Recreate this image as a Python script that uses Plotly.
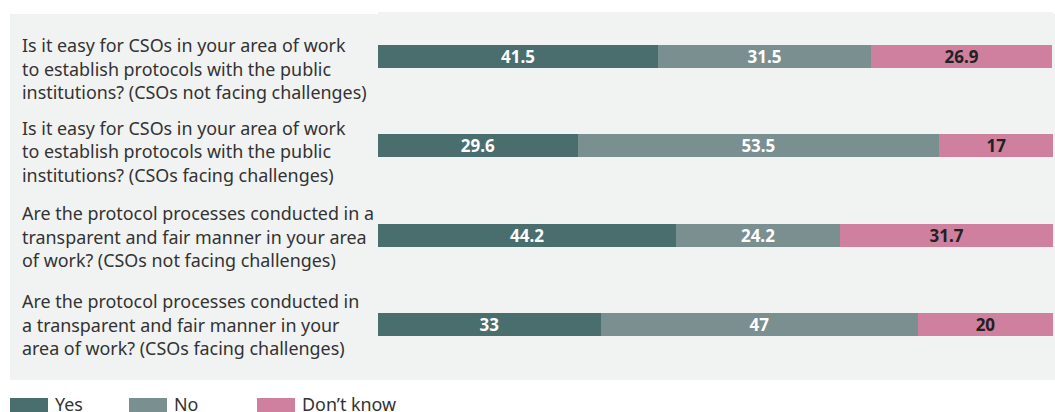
import plotly.graph_objects as go

# ---- data ----
questions = [
    ["Is it easy for CSOs in your area of work", "to establish protocols with the public", "institutions? (CSOs not facing challenges)"],
    ["Is it easy for CSOs in your area of work", "to establish protocols with the public", "institutions? (CSOs facing challenges)"],
    ["Are the protocol processes conducted in a", "transparent and fair manner in your area", "of work? (CSOs not facing challenges)"],
    ["Are the protocol processes conducted in", "a transparent and fair manner in your", "area of work? (CSOs facing challenges)"],
]
categories = ["Q1", "Q2", "Q3", "Q4"]
yes_vals = [41.5, 29.6, 44.2, 33]
no_vals = [31.5, 53.5, 24.2, 47]
dk_vals = [26.9, 17, 31.7, 20]
series_names = ["Yes", "No", "Don\u2019t know"]

# ---- style ----
W, H = 1055, 412
ML, MR, MT, MB = 378, 2, 12, 43
colors = ["#4a6e6e", "#7a8f8f", "#cf809e"]
text_colors = ["#ffffff", "#ffffff", "#222222"]
panel = "#f1f2f2"
font_family = "Noto Sans"
txt_color = "#333333"
label_size = 17.9

fig = go.Figure()
for name, vals, c, tc in zip(series_names, [yes_vals, no_vals, dk_vals], colors, text_colors):
    fig.add_trace(go.Bar(
        y=categories, x=vals, name=name, orientation="h",
        marker=dict(color=c, line=dict(width=0)),
        width=0.258,
        text=[str(v) for v in vals],
        textposition="inside", insidetextanchor="middle",
        constraintext="none", textangle=0,
        textfont=dict(family=font_family, size=17, color=tc, weight="bold"),
        showlegend=False, hoverinfo="skip",
    ))

pw = W - ML - MR
ph = H - MT - MB

def px_x(x):
    return (x - ML) / pw

def px_y(y):
    return 1 - (y - MT) / ph

shapes = [dict(type="rect", xref="paper", yref="paper",
               x0=px_x(10), x1=px_x(1055), y0=px_y(380), y1=px_y(14),
               fillcolor=panel, line=dict(width=0), layer="below")]

annotations = []
# question labels, each line as its own text (line spacing ~23.5px)
row_first_center = [45, 128, 213, 301]
for lines, y0 in zip(questions, row_first_center):
    for i, line in enumerate(lines):
        annotations.append(dict(
            xref="paper", yref="paper", x=px_x(21), y=px_y(y0 + i * 23.5),
            xanchor="left", yanchor="middle", showarrow=False, borderpad=0,
            text=line, font=dict(family=font_family, size=label_size, color=txt_color),
        ))

# legend
legend_items = [(10, 54), (129, 173), (257, 301)]
for (sx, tx), name, c in zip(legend_items, series_names, colors):
    shapes.append(dict(type="rect", xref="paper", yref="paper",
                       x0=px_x(sx), x1=px_x(sx + 38), y0=px_y(413), y1=px_y(398),
                       fillcolor=c, line=dict(width=0)))
    annotations.append(dict(
        xref="paper", yref="paper", x=px_x(tx), y=px_y(404),
        xanchor="left", yanchor="middle", showarrow=False, borderpad=0,
        text=name, font=dict(family=font_family, size=label_size, color=txt_color),
    ))

fig.update_layout(
    width=W, height=H,
    margin=dict(l=ML, r=MR, t=MT, b=MB, pad=0),
    barmode="stack",
    paper_bgcolor="white", plot_bgcolor=panel,
    xaxis=dict(range=[0, 100], visible=False, fixedrange=True),
    yaxis=dict(categoryorder="array", categoryarray=categories, autorange=False,
               range=[3.5, -0.5], visible=False, fixedrange=True),
    shapes=shapes, annotations=annotations,
    showlegend=False,
    font=dict(family=font_family),
)

fig.write_html("out.html", config={"displayModeBar": False})
